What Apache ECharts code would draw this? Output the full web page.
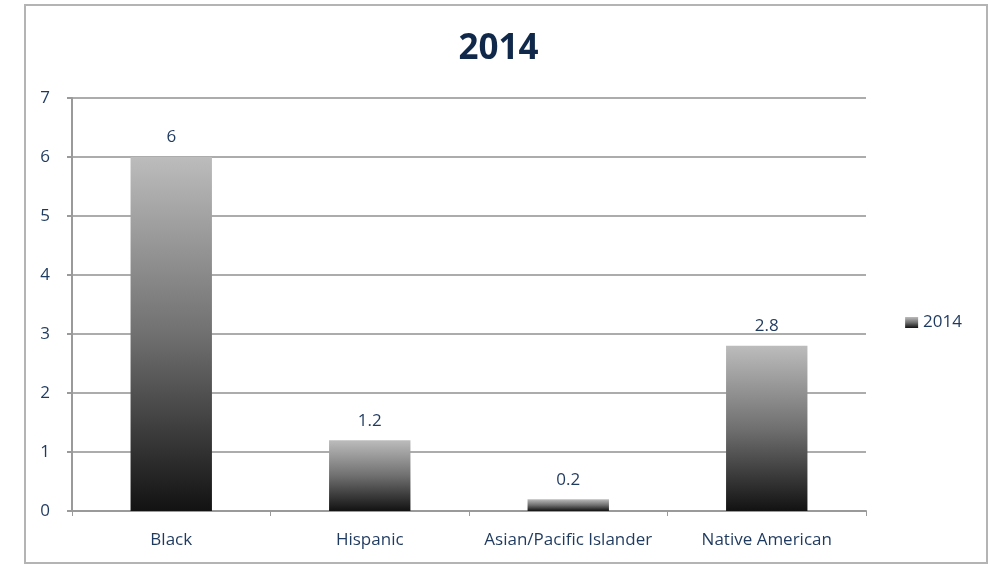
<!DOCTYPE html>
<html>
<head>
<meta charset="utf-8">
<script src="https://cdn.jsdelivr.net/npm/echarts@6/dist/echarts.min.js"></script>
<style>
  html, body { margin: 0; padding: 0; background: #ffffff; }
  #chart { width: 997px; height: 565px; }
</style>
</head>
<body>
<div id="chart"></div>
<script>
// Chart data
const titleText = '2014';
const seriesName = '2014';
const categories = ['Black', 'Hispanic', 'Asian/Pacific Islander', 'Native American'];
const values = [6, 1.2, 0.2, 2.8];
const yTicks = { min: 0, max: 7, interval: 1 };

const labelColor = '#1f3a5f';
const fontFamily = '"Open Sans", "Liberation Sans", sans-serif';

// Grey-to-black vertical fill used by the bars and the legend swatch
const barFill = () => new echarts.graphic.LinearGradient(0, 0, 0, 1, [
  { offset: 0, color: '#bcbcbc' },
  { offset: 0.5, color: '#707070' },
  { offset: 1, color: '#121212' }
]);

const chart = echarts.init(document.getElementById('chart'), null, { renderer: 'canvas' });

chart.setOption({
  backgroundColor: '#ffffff',
  animation: false,
  title: {
    text: titleText,
    left: 'center',
    top: 27,
    textStyle: {
      fontFamily: fontFamily,
      fontSize: 35,
      fontWeight: 'bold',
      color: '#10294a'
    }
  },
  legend: {
    data: [seriesName],
    right: 30,
    top: 309,
    icon: 'rect',
    itemWidth: 13,
    itemHeight: 11,
    itemGap: 4,
    textStyle: { fontFamily: fontFamily, fontSize: 17, color: labelColor }
  },
  grid: {
    left: 72,
    right: 131,
    top: 98,
    bottom: 54,
    containLabel: false
  },
  xAxis: {
    type: 'category',
    data: categories,
    axisLine: { lineStyle: { color: '#9a9a9a', width: 2 } },
    axisTick: { show: true, length: 5, lineStyle: { color: '#9a9a9a', width: 1 } },
    axisLabel: {
      interval: 0,
      hideOverlap: false,
      margin: 21,
      fontFamily: fontFamily,
      fontSize: 17,
      color: labelColor
    }
  },
  yAxis: {
    type: 'value',
    min: yTicks.min,
    max: yTicks.max,
    interval: yTicks.interval,
    axisLine: { show: true, lineStyle: { color: '#9a9a9a', width: 2 } },
    axisTick: { show: true, length: 5, lineStyle: { color: '#9a9a9a', width: 2 } },
    axisLabel: {
      margin: 22,
      fontFamily: fontFamily,
      fontSize: 17,
      color: labelColor
    },
    splitLine: { show: true, lineStyle: { color: '#acacac', width: 2 } }
  },
  series: [{
    name: seriesName,
    type: 'bar',
    data: values,
    barWidth: '41%',
    itemStyle: { color: barFill() },
    label: {
      show: true,
      position: 'top',
      distance: 11,
      fontFamily: fontFamily,
      fontSize: 17,
      color: labelColor
    }
  }],
  // Chart-area frame
  graphic: [{
    type: 'rect',
    silent: true,
    z: -1,
    shape: { x: 25, y: 5, width: 962, height: 558 },
    style: { fill: 'none', stroke: '#b4b4b4', lineWidth: 2 }
  }]
});
</script>
</body>
</html>
